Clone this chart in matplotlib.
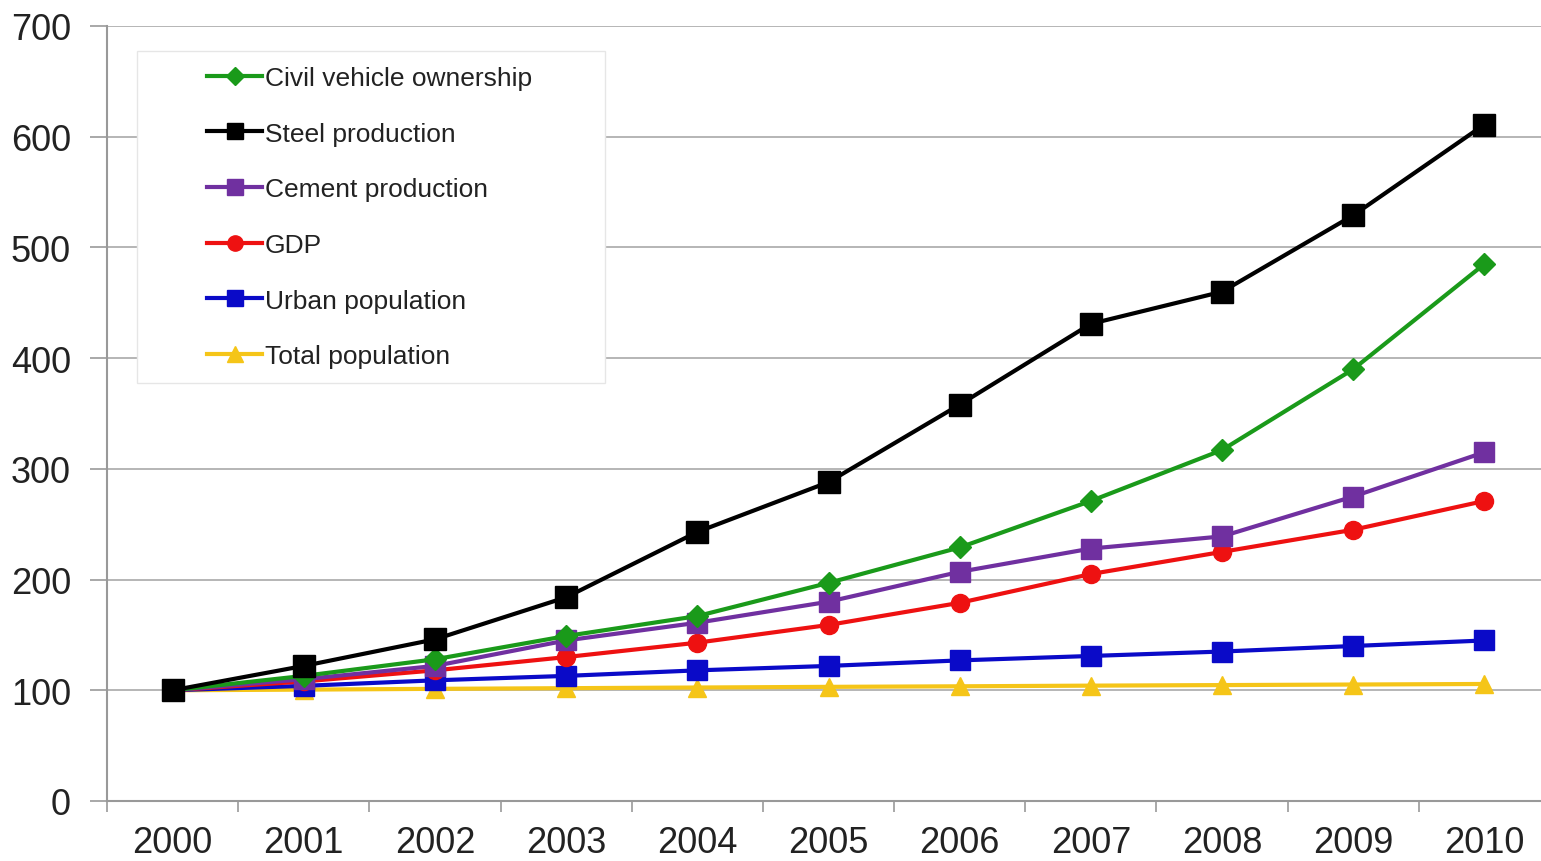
import matplotlib.pyplot as plt
from matplotlib.patches import Rectangle

plt.rcParams['font.family'] = ['Liberation Sans', 'DejaVu Sans']

years = ['2000', '2001', '2002', '2003', '2004', '2005', '2006', '2007', '2008', '2009', '2010']

vehicle = [100, 113, 128, 149, 167, 197, 229, 271, 317, 390, 485]
steel = [100, 122, 146, 184, 243, 288, 358, 431, 460, 529, 611]
cement = [100, 110, 122, 145, 161, 180, 207, 228, 239, 275, 315]
gdp = [100, 108, 118, 130, 143, 159, 179, 205, 225, 245, 271]
urban = [100, 104, 109, 113, 118, 122, 127, 131, 135, 140, 145]
total = [100, 100.6, 101.3, 101.9, 102.5, 103.1, 103.6, 104.2, 104.7, 105.2, 105.7]

fig = plt.figure(figsize=(15.41, 8.62), dpi=100)
ax = fig.add_axes([107/1541, 60/862, 1443/1541, 775/862])

x = range(len(years))
ax.plot(x, vehicle, color='#1a9a1a', lw=3, marker='D', ms=11, label='Civil vehicle ownership', zorder=5)
ax.plot(x, steel, color='black', lw=3, marker='s', ms=16, label='Steel production', zorder=6)
ax.plot(x, cement, color='#7030a0', lw=3, marker='s', ms=14, label='Cement production', zorder=4)
ax.plot(x, gdp, color='#ee1111', lw=3, marker='o', ms=13, label='GDP', zorder=3)
ax.plot(x, urban, color='#0a0ac8', lw=3, marker='s', ms=14, label='Urban population', zorder=2.5)
ax.plot(x, total, color='#f5c518', lw=3, marker='^', ms=13, label='Total population', zorder=2.2)

ax.set_xlim(-0.5, len(years) - 0.5)
ax.set_ylim(0, 700)
ax.set_yticks(range(0, 701, 100))
ax.set_xticks(x)
ax.set_xticklabels(years)
ax.set_xticks([i + 0.5 for i in range(-1, len(years))], minor=True)
ax.tick_params(axis='x', which='major', length=0, pad=17, labelsize=26, labelcolor='#222222')
ax.tick_params(axis='x', which='minor', length=8, width=1.2, color='#999999', direction='out')
ax.tick_params(axis='y', length=12, width=1.2, color='#999999', direction='out', pad=14,
               labelsize=26, labelcolor='#222222')
ax.yaxis.grid(True, color='#b0b0b0', lw=1.3)
ax.set_axisbelow(True)
for s in ['top', 'right']:
    ax.spines[s].set_visible(False)
for s in ['left', 'bottom']:
    ax.spines[s].set_color('#999999')
    ax.spines[s].set_linewidth(1.5)

# legend box drawn separately so its padding matches the original
box = Rectangle((30/1443, (775 - 357)/775), 468/1443, 332/775, transform=ax.transAxes,
                facecolor='white', edgecolor='#e6e6e6', lw=1, zorder=2)
ax.add_patch(box)

leg = ax.legend(loc='upper left', bbox_to_anchor=(100/1443, (775 - 40)/775), fontsize=19,
                frameon=False, handlelength=2.1, handletextpad=0.1, labelspacing=1.2,
                borderpad=0, borderaxespad=0)
for h, ms in zip(leg.legend_handles, [9, 12, 12, 11, 12, 11]):
    h.set_markersize(ms)
for t in leg.get_texts():
    t.set_color('#222222')

fig.savefig('out.png', dpi=100)
